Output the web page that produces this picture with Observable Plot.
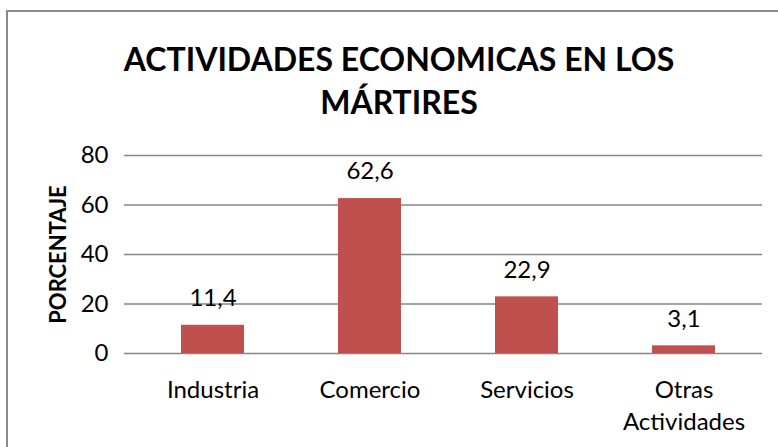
<!DOCTYPE html>
<html>
<head>
<meta charset="utf-8">
<script src="https://cdn.jsdelivr.net/npm/d3@7"></script>
<script src="https://cdn.jsdelivr.net/npm/@observablehq/plot@0.6"></script>
<style>
  html, body { margin: 0; padding: 0; background: #fff; width: 778px; height: 447px; overflow: hidden; }
  #frame { position: absolute; left: 6px; top: 10px; width: 900px; height: 600px; border: 2px solid #8a8a8a; box-sizing: border-box; }
  #title { position: absolute; left: 0; top: 37px; width: 798px; text-align: center; font-family: Lato, sans-serif; font-weight: bold; font-size: 32px; line-height: 43px; color: #000; }
  #chart { position: absolute; left: 0; top: 130px; }
</style>
</head>
<body>
<div id="frame"></div>
<div id="title">ACTIVIDADES ECONOMICAS EN LOS<br>MÁRTIRES</div>
<div id="chart"></div>
<script>
const categories = ["Industria", "Comercio", "Servicios", "Otras Actividades"];
const tickLabels = ["Industria", "Comercio", "Servicios", "Otras\nActividades"];
const values = [11.4, 62.6, 22.9, 3.1];
const yTicks = [0, 20, 40, 60, 80];

const data = categories.map((c, i) => ({cat: c, value: values[i]}));
const fmt = v => String(v).replace(".", ",");

const chart = Plot.plot({
  width: 778,
  height: 317,
  marginTop: 25,
  marginBottom: 94,
  marginLeft: 133,
  marginRight: 16,
  style: {fontFamily: "Lato, sans-serif", color: "#000", background: "transparent"},
  x: {domain: categories, paddingInner: 0.6, paddingOuter: 0.3},
  y: {domain: [0, 80]},
  marks: [
    Plot.ruleY(yTicks, {stroke: "#868686", strokeWidth: 1.5, strokeOpacity: 1}),
    Plot.ruleX([0], {x: () => null, frameAnchor: "left", stroke: "#868686", strokeWidth: 1.5}),
    Plot.axisY({ticks: yTicks, tickSize: 9, tickPadding: 16, stroke: "#868686", strokeWidth: 1.5, strokeOpacity: 1, fontSize: 24, label: null}),
    Plot.axisX({tickSize: 0, tickPadding: 21, fontSize: 24, lineHeight: 1.35, tickFormat: (d) => tickLabels[categories.indexOf(d)], label: null}),
    Plot.barY(data, {x: "cat", y: "value", fill: "#C0504D"}),
    Plot.text(data, {x: "cat", y: "value", text: d => fmt(d.value), dy: -27, fontSize: 24, fill: "#000"}),
    Plot.text(["PORCENTAJE"], {frameAnchor: "left", textAnchor: "middle", dx: -75, rotate: -90, fontSize: 22, fontWeight: "bold", fill: "#000"})
  ]
});
document.getElementById("chart").appendChild(chart);
</script>
</body>
</html>
